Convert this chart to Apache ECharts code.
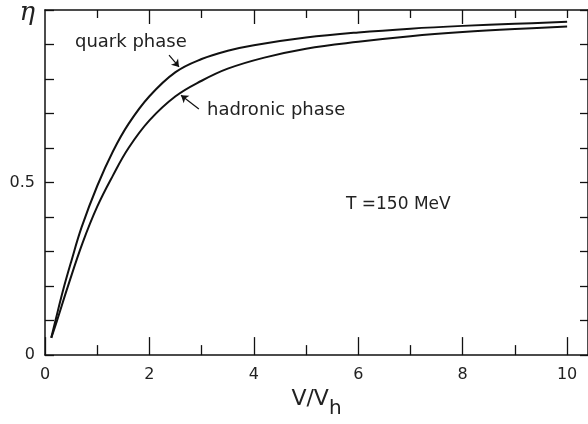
<!DOCTYPE html>
<html>
<head>
<meta charset="utf-8">
<script src="https://cdn.jsdelivr.net/npm/echarts@6/dist/echarts.min.js"></script>
<style>
  html, body { margin: 0; padding: 0; background: #fff; }
  #chart { width: 588px; height: 424px; }
</style>
</head>
<body>
<div id="chart"></div>
<script>
// curve readings, V/Vh against eta
const quarkV = [0.12, 0.2, 0.35, 0.5, 0.7, 1.0, 1.3, 1.6, 2.0, 2.5, 3.0, 3.5, 4.0, 5.0, 6.0, 7.0, 8.0, 9.0, 10.0]
const quarkEta = [0.05, 0.1, 0.19, 0.27, 0.37, 0.49, 0.59, 0.67, 0.75, 0.82, 0.858, 0.882, 0.898, 0.92, 0.935, 0.946, 0.954, 0.96, 0.966]
const hadronV = [0.12, 0.23, 0.44, 0.72, 1.0, 1.3, 1.6, 2.0, 2.5, 3.0, 3.5, 4.2, 5.0, 6.0, 7.0, 8.0, 9.0, 10.0]
const hadronEta = [0.05, 0.1, 0.2, 0.325, 0.43, 0.52, 0.6, 0.68, 0.75, 0.795, 0.83, 0.862, 0.888, 0.908, 0.924, 0.936, 0.945, 0.952]

// tick positions
const bottomMajor = [0, 2, 4, 6, 8, 10]
const bottomMinor = [1, 3, 5, 7, 9]
const topLong = [2, 4, 6, 8]
const topShort = [1, 3, 5, 7, 9, 10]
const yLabels = [0, 0.5]

const ink = '#111'
const font = 'DejaVu Sans'

const chart = echarts.init(document.getElementById('chart'))

function xAx(extra) {
  return Object.assign({
    type: 'value',
    gridIndex: 0,
    min: 0,
    max: 10.4,
    interval: 2,
    splitLine: { show: false },
    axisLine: { show: false, onZero: false, lineStyle: { color: ink, width: 1.5 } },
    axisLabel: { show: false },
    axisTick: { show: false }
  }, extra)
}

chart.setOption({
  backgroundColor: '#fff',
  animation: false,
  grid: { left: 45, top: 7, width: 547, bottom: 65 },
  xAxis: [
    xAx({
      position: 'bottom',
      axisLine: { show: true, onZero: false, lineStyle: { color: ink, width: 1.5 } },
      axisTick: { show: true, inside: true, length: 18, customValues: bottomMajor, lineStyle: { color: ink, width: 1.3 } },
      axisLabel: { show: true, customValues: bottomMajor, margin: 12, fontSize: 16, fontFamily: font, color: '#222' },
      name: '{v|V/V}{h|h}',
      nameLocation: 'middle',
      nameGap: 30,
      nameTextStyle: {
        rich: {
          v: { fontSize: 22, fontFamily: font, color: '#222', verticalAlign: 'top' },
          h: { fontSize: 20, fontFamily: font, color: '#222', verticalAlign: 'bottom', padding: [11, 0, 0, 0] }
        }
      }
    }),
    xAx({
      position: 'bottom',
      axisTick: { show: true, inside: true, length: 10, customValues: bottomMinor, lineStyle: { color: ink, width: 1.3 } }
    }),
    xAx({
      position: 'top',
      axisLine: { show: true, onZero: false, lineStyle: { color: ink, width: 1.5 } },
      axisTick: { show: true, inside: true, length: 14, customValues: topLong, lineStyle: { color: ink, width: 1.3 } }
    }),
    xAx({
      position: 'top',
      axisTick: { show: true, inside: true, length: 8, customValues: topShort, lineStyle: { color: ink, width: 1.3 } }
    })
  ],
  yAxis: [
    {
      type: 'value',
      position: 'left',
      min: 0,
      max: 1,
      interval: 0.1,
      splitLine: { show: false },
      axisLine: { show: true, onZero: false, lineStyle: { color: ink, width: 1.5 } },
      axisTick: { show: true, inside: true, length: 9, lineStyle: { color: ink, width: 1.3 } },
      axisLabel: { customValues: yLabels, margin: 10, fontSize: 16, fontFamily: font, color: '#222', formatter: v => String(v) },
      name: 'η',
      nameLocation: 'end',
      nameGap: -3,
      nameTextStyle: { fontSize: 26, fontFamily: 'DejaVu Serif', fontStyle: 'italic', color: '#222', align: 'right', verticalAlign: 'middle', padding: [0, 10, 0, 0] }
    },
    {
      type: 'value',
      position: 'right',
      min: 0,
      max: 1,
      interval: 0.1,
      splitLine: { show: false },
      axisLine: { show: true, onZero: false, lineStyle: { color: ink, width: 1.5 } },
      axisTick: { show: true, inside: true, length: 8, lineStyle: { color: ink, width: 1.3 } },
      axisLabel: { show: false }
    }
  ],
  graphic: [
    { type: 'text', x: 75, y: 42, style: { text: 'quark phase', fontSize: 18, fontFamily: font, fill: '#222', verticalAlign: 'middle' } },
    { type: 'text', x: 207, y: 110, style: { text: 'hadronic phase', fontSize: 18, fontFamily: font, fill: '#222', verticalAlign: 'middle' } },
    { type: 'text', x: 346, y: 205, style: { text: 'T =150 MeV', fontSize: 17, fontFamily: font, fill: '#222', verticalAlign: 'middle' } }
  ],
  series: [
    {
      name: 'quark phase',
      type: 'line',
      xAxisIndex: 0,
      yAxisIndex: 0,
      smooth: 0.4,
      showSymbol: false,
      lineStyle: { color: ink, width: 2 },
      data: quarkV.map((v, i) => [v, quarkEta[i]]),
      markLine: {
        silent: true,
        symbol: ['none', 'arrow'],
        symbolSize: 7,
        label: { show: false },
        lineStyle: { color: ink, width: 1.2, type: 'solid' },
        data: [
          [{ coord: [2.376, 0.869] }, { coord: [2.567, 0.835] }],
          [{ coord: [2.947, 0.713] }, { coord: [2.605, 0.753] }]
        ]
      }
    },
    {
      name: 'hadronic phase',
      type: 'line',
      xAxisIndex: 0,
      yAxisIndex: 0,
      smooth: 0.4,
      showSymbol: false,
      lineStyle: { color: ink, width: 2 },
      data: hadronV.map((v, i) => [v, hadronEta[i]])
    }
  ]
})
</script>
</body>
</html>
